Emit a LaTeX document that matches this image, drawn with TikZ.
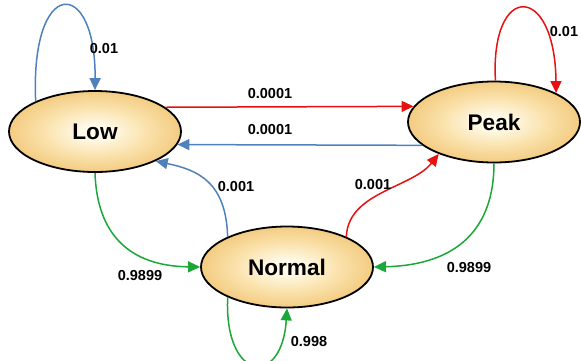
\documentclass[tikz,border=0pt]{standalone}
\usepackage{fontspec}
\setmainfont{Liberation Sans}
\usetikzlibrary{arrows.meta,shapes.geometric}

\definecolor{stlight}{RGB}{255,250,234}
\definecolor{stpale}{RGB}{250,226,172}
\definecolor{stmid}{RGB}{238,186,96}
\definecolor{stdark}{RGB}{218,145,30}
\definecolor{edgeblue}{RGB}{79,129,189}
\definecolor{edgered}{RGB}{232,16,16}
\definecolor{edgegreen}{RGB}{26,168,56}

% soft gold fill: light centre fading to amber at the rim
\pgfdeclareradialshading{stateglow}{\pgfpoint{0bp}{0bp}}{%
  color(0bp)=(stlight); color(4bp)=(stlight); color(15bp)=(stpale);
  color(33bp)=(stmid); color(50bp)=(stdark)}

\begin{document}
\begin{tikzpicture}[x=1pt,y=-1pt,
  state/.style={ellipse, draw=black, line width=1.8pt, shading=stateglow,
    minimum width=172pt, minimum height=81pt, inner sep=0pt,
    font=\bfseries\fontsize{22.6}{26}\selectfont},
  trans/.style={line width=1.5pt, -{Triangle[length=12pt,width=11pt]}},
  prob/.style={font=\bfseries\fontsize{14.5}{17}\selectfont, inner sep=0pt}]

\useasboundingbox (0,0) rectangle (581,360);

% states
\node[state] (low)    at (95,131.5) {Low};
\node[state] (peak)   at (494,122)  {Peak};
\node[state] (normal) at (287,267)  {Normal};

% transitions out of Low
\draw[trans,edgeblue]  (low.153) .. controls (30,-24) and (96,-24) .. (low.north);
\draw[trans,edgered]   (low.19) -- (peak.169);
\draw[trans,edgegreen] (low.south) .. controls (97,235) and (130,266) .. (normal.west);

% transitions out of Peak
\draw[trans,edgered]   (peak.88) .. controls (490,-18) and (555,-18) .. (peak.25);
\draw[trans,edgeblue]  (peak.198) -- (low.351);
\draw[trans,edgegreen] (peak.south) .. controls (494,228) and (458,265) .. (normal.east);

% transitions out of Normal
\draw[trans,edgeblue]  (normal.153) .. controls (226,182) and (198,170) .. (low.334);
\draw[trans,edgered]   (normal.27) .. controls (348,192) and (412,188) .. (peak.210);
\draw[trans,edgegreen] (normal.207) .. controls (224,382) and (282,388) .. (normal.south);

% transition probabilities
\node[prob] (pll) at (104,49)  {0.01};
\node[prob] (ppp) at (564,32)  {0.01};
\node[prob] (plp) at (270,94)  {0.0001};
\node[prob] (ppl) at (270,130) {0.0001};
\node[prob] (pnl) at (236,187) {0.001};
\node[prob] (pnp) at (373,185) {0.001};
\node[prob] (pln) at (140,276) {0.9899};
\node[prob] (ppn) at (469,268) {0.9899};
\node[prob] (pnn) at (309,341) {0.998};
\end{tikzpicture}
\end{document}
